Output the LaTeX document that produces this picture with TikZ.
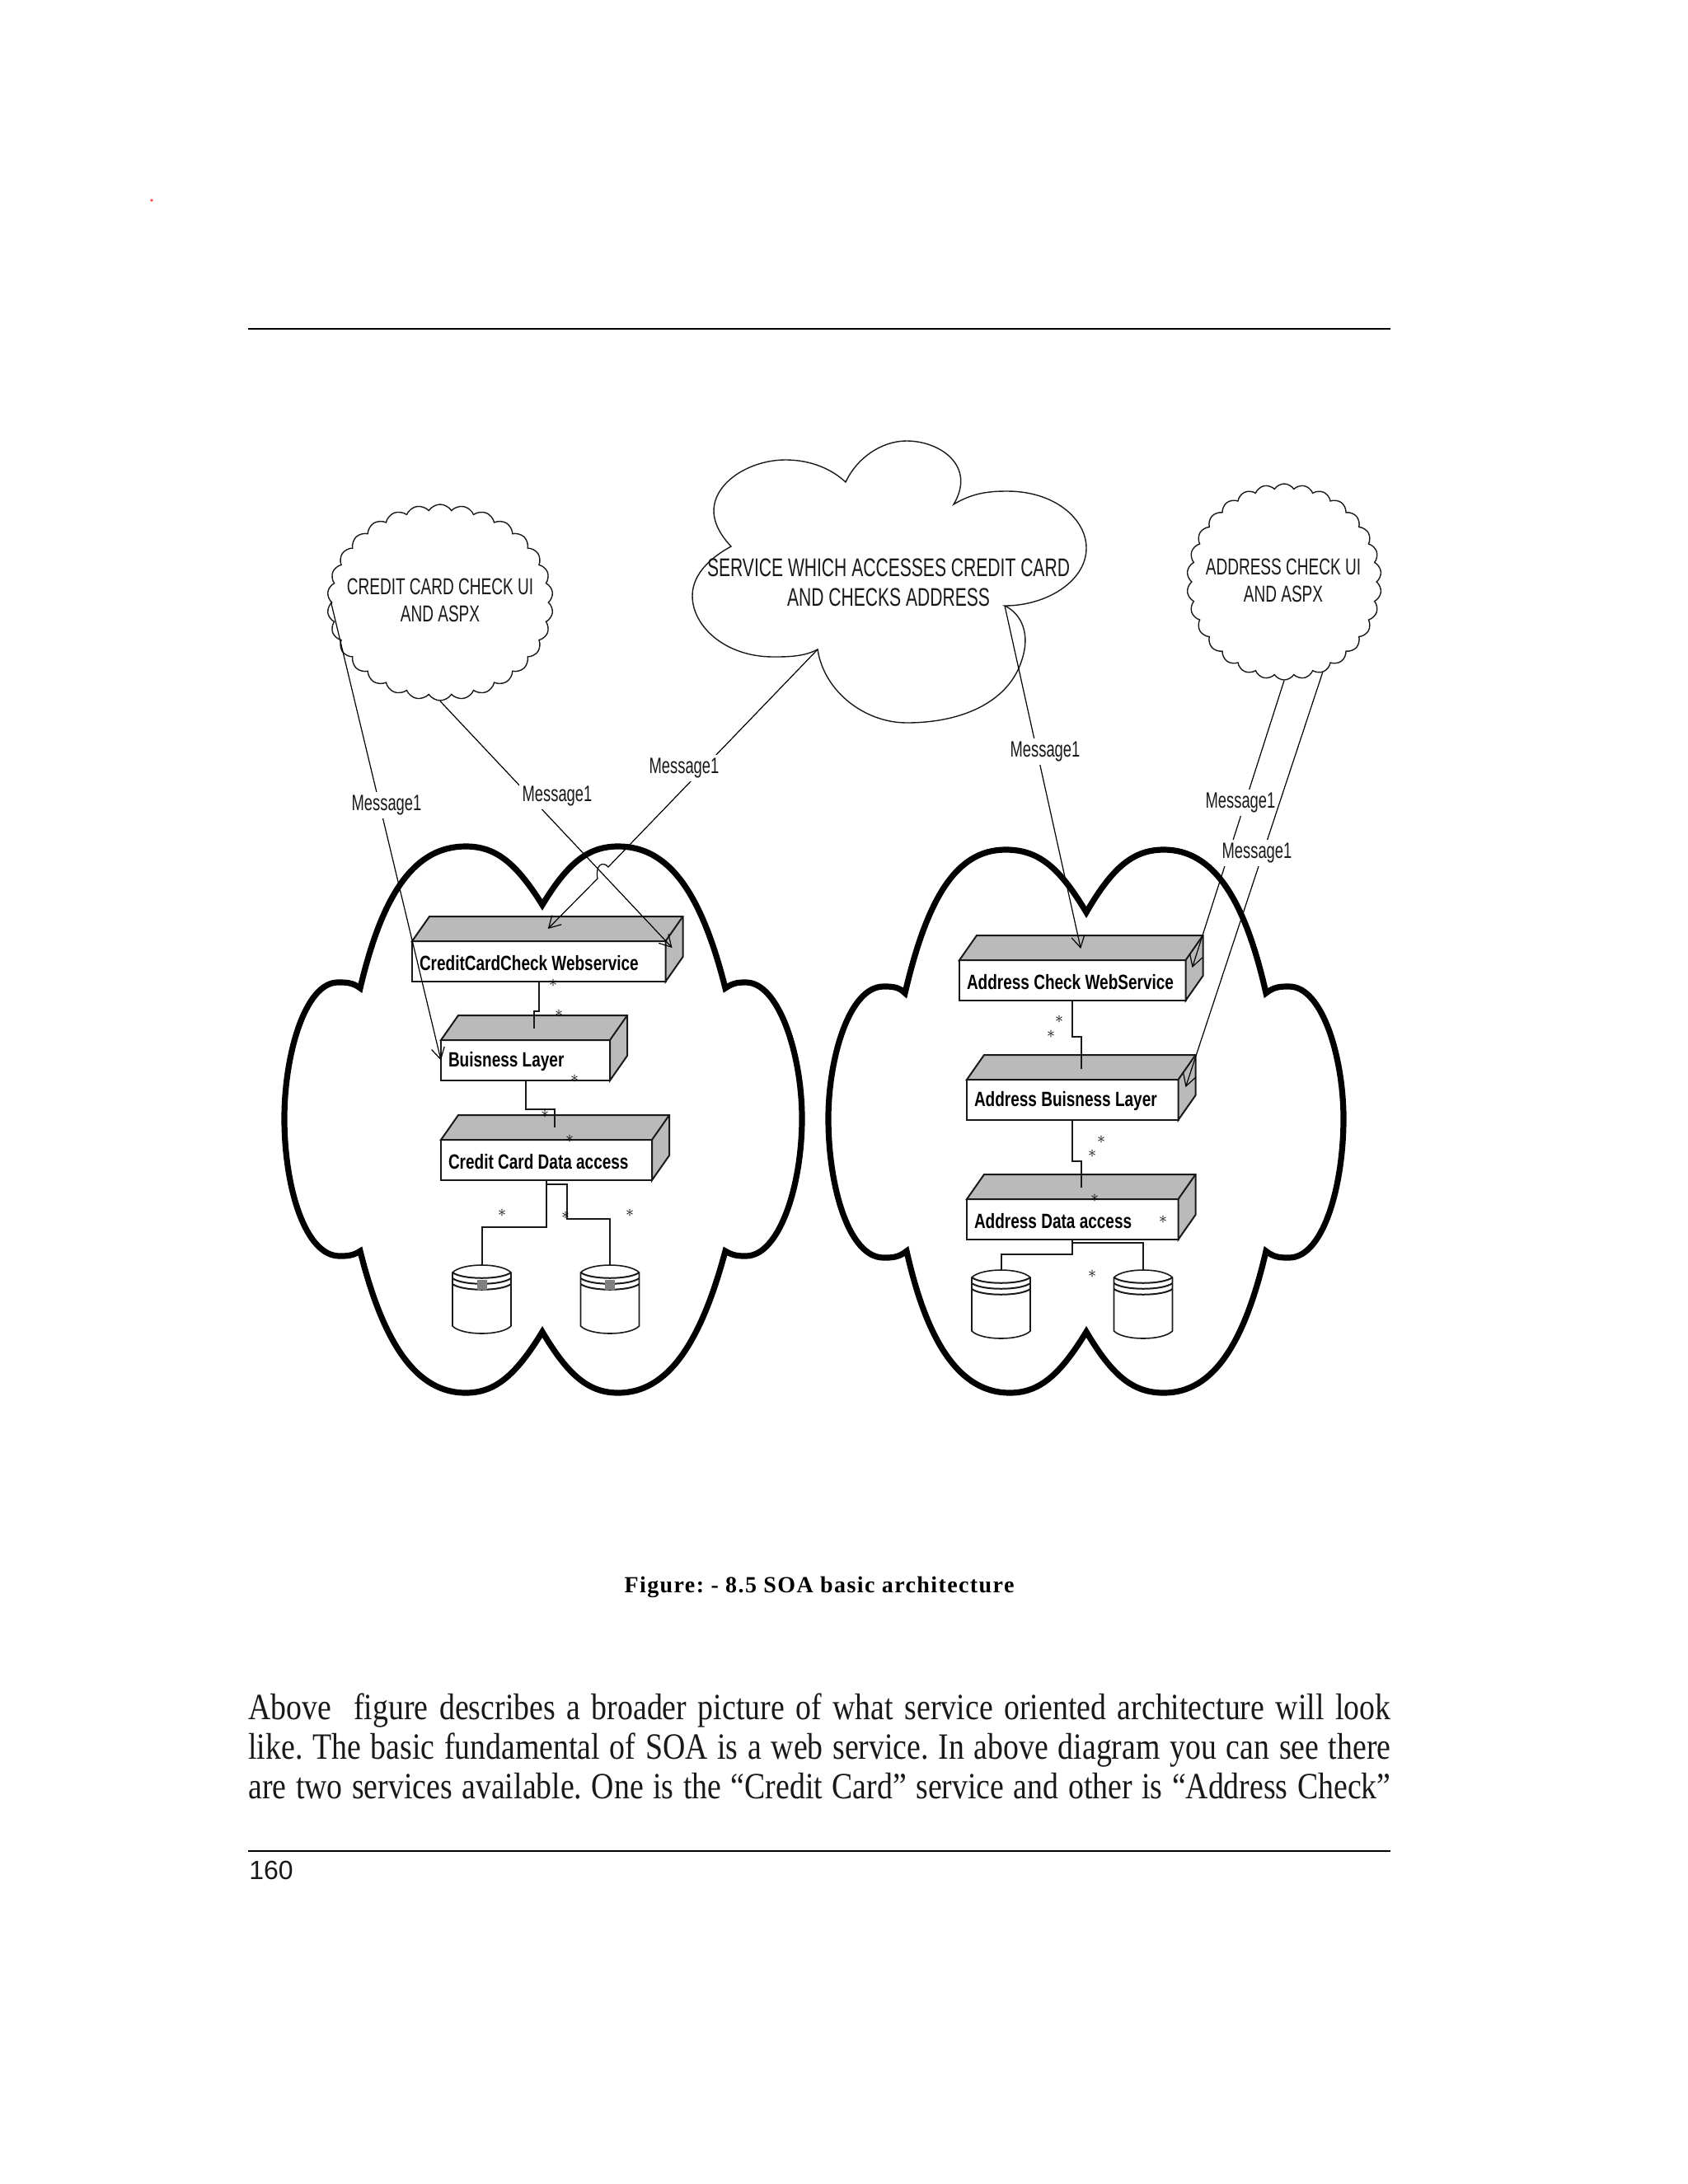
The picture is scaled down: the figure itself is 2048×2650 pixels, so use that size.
\documentclass[tikz,border=0pt]{standalone}
\usepackage{fontspec}
\usetikzlibrary{arrows.meta,calc,shapes.symbols}
\setmainfont{Liberation Serif}
\newfontfamily\narrowfont[FakeStretch=0.68]{Liberation Sans}
\newfontfamily\boxfont[FakeStretch=0.76]{Liberation Sans Bold}
\newfontfamily\bodyfont[FakeStretch=0.84]{Liberation Serif}
\newfontfamily\capfont[LetterSpace=5]{Liberation Serif Bold}
\newfontfamily\pagefont{Liberation Sans}
\tikzset{
  msgline/.style={black,line width=0.6pt,-{Straight Barb[length=7pt,width=8pt]}},
  msglabel/.style={fill=white,inner sep=2pt,text=black!90,font=\narrowfont\fontsize{13.5}{15}\selectfont},
  cloudtext/.style={inner sep=0pt,align=center,text=black!90,font=\narrowfont\fontsize{14}{16.5}\selectfont},
  puffcloud/.style={cloud,draw,black!90,line width=0.7pt,cloud puffs=30,cloud puff arc=115,cloud ignores aspect,inner sep=0pt},
  bigcloud/.style={draw,black,line width=3.6pt,line join=miter},
  umlbox/.style={draw,black!90,line width=1pt,fill=white,anchor=north west,minimum height=24.5pt,outer sep=0pt,inner sep=0pt},
  umltext/.style={anchor=west,inner sep=0pt,xshift=4.3pt,yshift=-1pt,black,font=\boxfont\fontsize{12.5}{14}\selectfont},
  umldepth/.style={draw,black!90,line width=1pt,fill=black!27},
  linkline/.style={black!90,line width=1pt},
  dbline/.style={black!90,line width=0.8pt},
  dbbox/.style={anchor=north,minimum width=35.5pt,minimum height=41.5pt,inner sep=0pt,outer sep=0pt},
  starmark/.style={inner sep=0pt,black},
  bodyline/.style={anchor=base west,inner sep=0pt,black!90,font=\bodyfont\fontsize{22.5}{24}\selectfont},
}
\newcommand{\umlnode}[5]{
  \node[umlbox,minimum width=#4pt] (#1) at (#2,#3) {};
  \node[umltext] (#1text) at (#1.west) {#5};
  \draw[umldepth] (#1.north west) -- ++(21,-30) -- ($(#1.north east)+(21,-30)$)
    -- ($(#1.south east)+(21,-30)$) -- (#1.south east) -- (#1.north east) -- cycle;
  \draw[umldepth] (#1.north east) -- ($(#1.north east)+(21,-30)$);
}
\newcommand{\dbdisk}[3]{
  \node[dbbox] (#1) at (#2,#3) {};
  \draw[dbline] ($(#1.north west)+(0,9)$) .. controls ($(#1.north west)+(12,-3)$) and ($(#1.north east)+(-12,-3)$) .. ($(#1.north east)+(0,9)$)
    -- ($(#1.south east)+(0,-9)$) .. controls ($(#1.south east)+(-12,3)$) and ($(#1.south west)+(12,3)$) .. ($(#1.south west)+(0,-9)$) -- cycle;
  \foreach \dy in {9,16,23}
    \draw[dbline,line width=1pt] ($(#1.north west)+(0,\dy)$) .. controls ($(#1.north west)+(12,\dy+9)$) and ($(#1.north east)+(-12,\dy+9)$) .. ($(#1.north east)+(0,\dy)$);
}
\begin{document}
\frenchspacing
\begin{tikzpicture}[x=0.5pt,y=-0.5pt]
  \useasboundingbox (0,0) rectangle (2048,2650);
  \fill[red!70] (184,243) circle (0.9pt);
  \draw[black,line width=1pt] (301,399)--(1687,399);
  \draw[black,line width=1pt] (301,2246)--(1687,2246);

  % thick clouds
  \draw[bigcloud] (658,1098) .. controls (625,1045) and (600,1027) .. (565,1027)
    .. controls (505,1027) and (465,1080) .. (437,1199)
    .. controls (428,1192) and (420,1192) .. (410,1192)
    .. controls (370,1192) and (345,1280) .. (345,1357)
    .. controls (345,1440) and (370,1524) .. (412,1524)
    .. controls (420,1524) and (428,1524) .. (437,1518)
    .. controls (465,1630) and (505,1690) .. (565,1690)
    .. controls (600,1690) and (625,1670) .. (658,1616)
    .. controls (690,1670) and (715,1690) .. (750,1690)
    .. controls (810,1690) and (850,1630) .. (880,1518)
    .. controls (890,1524) and (897,1524) .. (905,1524)
    .. controls (945,1524) and (973,1440) .. (973,1357)
    .. controls (973,1280) and (945,1192) .. (905,1192)
    .. controls (897,1192) and (890,1192) .. (880,1199)
    .. controls (850,1080) and (810,1027) .. (750,1027)
    .. controls (715,1027) and (690,1045) .. (658,1098) -- cycle;
  \draw[bigcloud] (1318,1107) .. controls (1285,1052) and (1260,1031) .. (1220,1031)
    .. controls (1160,1031) and (1125,1090) .. (1098,1205)
    .. controls (1090,1197) and (1082,1197) .. (1072,1197)
    .. controls (1030,1197) and (1005,1285) .. (1005,1357)
    .. controls (1005,1440) and (1030,1526) .. (1072,1526)
    .. controls (1082,1526) and (1090,1526) .. (1100,1518)
    .. controls (1125,1630) and (1165,1690) .. (1225,1690)
    .. controls (1260,1690) and (1285,1670) .. (1318,1616)
    .. controls (1350,1670) and (1375,1690) .. (1412,1690)
    .. controls (1472,1690) and (1510,1630) .. (1536,1518)
    .. controls (1546,1526) and (1554,1526) .. (1564,1526)
    .. controls (1605,1526) and (1630,1440) .. (1630,1357)
    .. controls (1630,1285) and (1605,1197) .. (1564,1197)
    .. controls (1554,1197) and (1546,1197) .. (1536,1205)
    .. controls (1510,1090) and (1472,1031) .. (1412,1031)
    .. controls (1375,1031) and (1350,1052) .. (1318,1107) -- cycle;

  % service cloud
  \draw[black!90,line width=0.7pt] (1026,585) .. controls (1040,555) and (1070,535) .. (1100,535)
    .. controls (1140,535) and (1185,565) .. (1157,612)
    .. controls (1180,598) and (1200,596) .. (1222,596)
    .. controls (1280,596) and (1318,630) .. (1318,665)
    .. controls (1318,705) and (1270,735) .. (1219,735)
    .. controls (1240,745) and (1250,770) .. (1240,800)
    .. controls (1225,850) and (1170,877) .. (1100,877)
    .. controls (1050,877) and (1000,840) .. (992,788)
    .. controls (975,797) and (955,797) .. (938,797)
    .. controls (880,797) and (840,760) .. (840,723)
    .. controls (840,695) and (865,675) .. (887,663)
    .. controls (870,645) and (866,630) .. (866,620)
    .. controls (866,585) and (910,558) .. (953,558)
    .. controls (985,558) and (1010,570) .. (1026,585) -- cycle;
  \coordinate (svcleft) at (992,788);
  \coordinate (svcright) at (1219,735);
  \node[cloudtext,font=\narrowfont\fontsize{15.5}{18}\selectfont] (svctext) at (1078,707) {SERVICE WHICH ACCESSES CREDIT CARD\\AND CHECKS ADDRESS};

  \node[puffcloud,minimum width=137pt,minimum height=119pt] (ccui) at (534,731) {};
  \node[cloudtext] (ccuitext) at (534,728) {CREDIT CARD CHECK UI\\AND ASPX};
  \node[puffcloud,minimum width=118pt,minimum height=119pt] (addrui) at (1558,706) {};
  \node[cloudtext] (addruitext) at (1557,704) {ADDRESS CHECK UI\\AND ASPX};

  % boxes
  \umlnode{ccweb}{500}{1142}{153.75}{CreditCardCheck Webservice}
  \umlnode{ccbiz}{535}{1262}{102.5}{Buisness Layer}
  \umlnode{ccdata}{535}{1383}{128}{Credit Card Data access}
  \umlnode{addrweb}{1164}{1165}{137.25}{Address Check WebService}
  \umlnode{addrbiz}{1173}{1310}{128.25}{Address Buisness Layer}
  \umlnode{addrdata}{1173}{1455}{128.25}{Address Data access}

  \dbdisk{ccdbone}{584.5}{1535}
  \dbdisk{ccdbtwo}{740}{1535}
  \dbdisk{addrdbone}{1214.5}{1541}
  \dbdisk{addrdbtwo}{1387}{1541}
  \fill[black!50] ($(ccdbone.north)+(-6,18)$) rectangle ++(12,12);
  \fill[black!50] ($(ccdbtwo.north)+(-6,18)$) rectangle ++(12,12);

  % links between layers
  \draw[linkline] (ccweb.south) -- ++(0,36) -| ($(ccbiz.north)+(10,-14)$);
  \draw[linkline] (ccbiz.south) -- ++(0,35) -| ($(ccdata.north)+(10,-15)$);
  \draw[linkline] (ccdata.south) -- ++(0,57) -| (ccdbone.north);
  \draw[linkline] (ccdata.south) -- ++(0,5) -- ++(25,0) -- ++(0,42) -| (ccdbtwo.north);
  \draw[linkline] (addrweb.south) -- ++(0,44) -| ($(addrbiz.north)+(11,-13)$);
  \draw[linkline] (addrbiz.south) -- ++(0,50) -| ($(addrdata.north)+(11,-14)$);
  \draw[linkline] (addrdata.south) -- ++(0,18) -| (addrdbone.north);
  \draw[linkline] (addrdata.south) -- ++(0,4) -| (addrdbtwo.north);

  \foreach \sx/\sy [count=\si] in {671/1193,678/1230,697/1309,661/1352,691/1382,609/1472,686/1475,764/1472,
    1285/1237,1275/1255,1336/1383,1325/1400,1328/1454,1411/1480,1325/1546}
    \node[starmark] (star\si) at (\sx,\sy) {$\ast$};

  % messages
  \draw[msgline] (ccui.west) -- (ccbiz.west);
  \node[msglabel] (msgone) at (469,977) {Message1};
  \draw[msgline] (ccui.south) -- ($(ccweb.north east)+(8,8)$);
  \node[msglabel] (msgtwo) at (676,966) {Message1};
  \draw[msgline] (svcleft) -- (738,1052) .. controls (731,1044) and (722,1050) .. (725,1066) -- ($(ccweb.north)+(11,-15)$);
  \node[msglabel] (msgthree) at (830,932) {Message1};
  \draw[msgline] (svcright) -- ($(addrweb.north)+(10,-14)$);
  \node[msglabel] (msgfour) at (1268,912) {Message1};
  \draw[msgline] (addrui.south) -- ($(addrweb.north east)+(8,9)$);
  \node[msglabel] (msgfive) at (1505,974) {Message1};
  \draw[msgline] (addrui.-67) -- ($(addrbiz.north east)+(9,9)$);
  \node[msglabel] (msgsix) at (1525,1035) {Message1};

  % page text
  \node[inner sep=0pt,black,font=\capfont\fontsize{14}{16}\selectfont] (figcap) at (994,1926) {Figure: - 8.5 SOA basic architecture};
  \node[bodyline] (lineone) at (301,2086) {\makebox[693pt][s]{Above\ \ figure describes a broader picture of what service oriented architecture will look}};
  \node[bodyline] (linetwo) at (301,2134) {\makebox[693pt][s]{like. The basic fundamental of SOA is a web service. In above diagram you can see there}};
  \node[bodyline] (linethree) at (301,2182) {\makebox[693pt][s]{are two services available. One is the “Credit Card” service and other is “Address Check”}};
  \node[anchor=west,inner sep=0pt,black!90,font=\pagefont\fontsize{16}{18}\selectfont] (pagenum) at (302,2269) {160};
\end{tikzpicture}
\end{document}
